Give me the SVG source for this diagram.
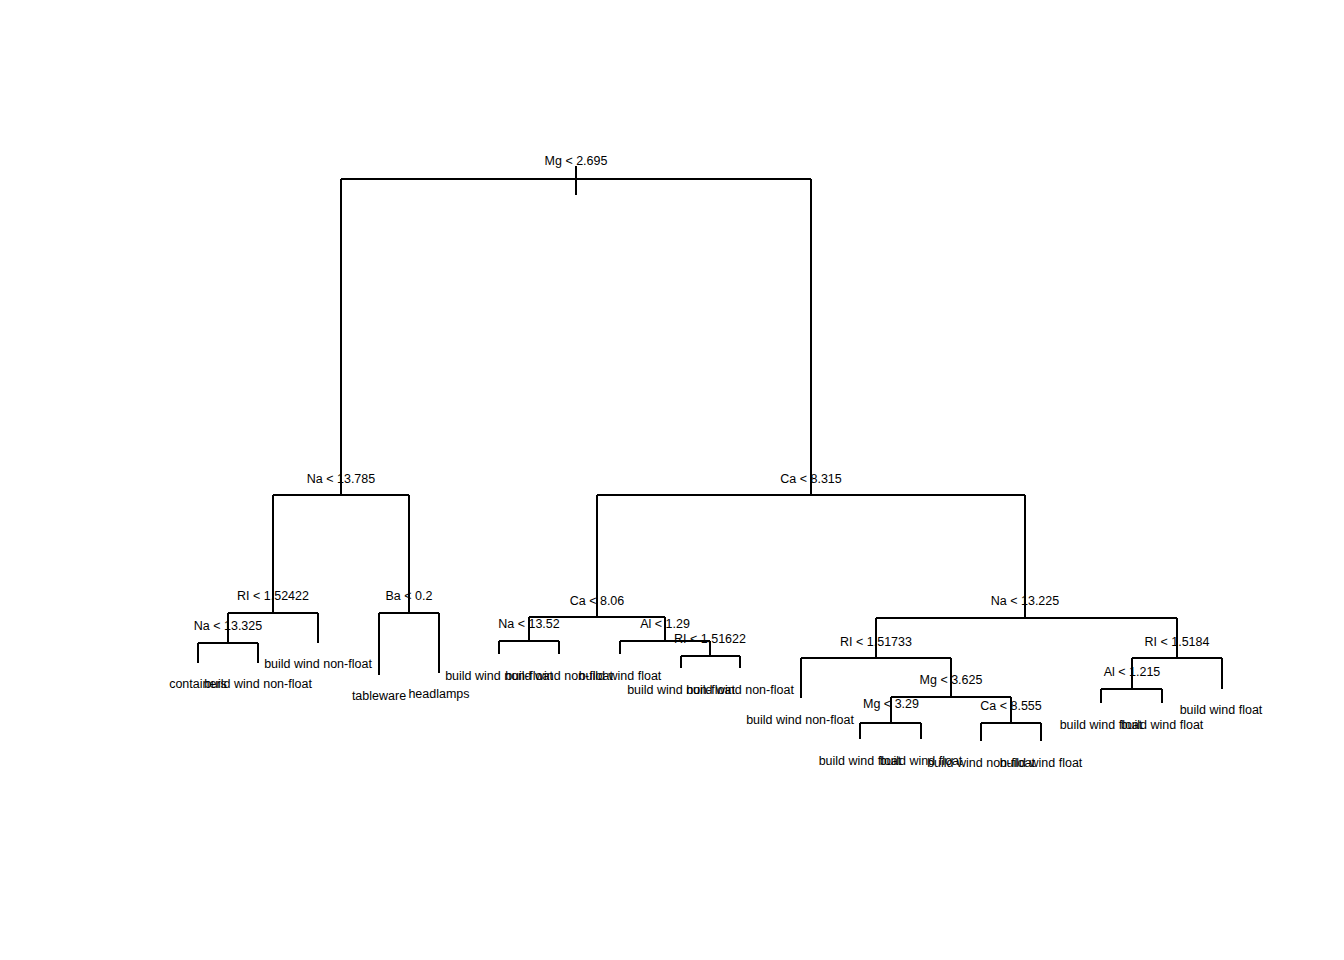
<svg xmlns="http://www.w3.org/2000/svg" width="1344" height="960" viewBox="0 0 1344 960">
<style>
text{font-family:"Liberation Sans",Arial,sans-serif;font-size:12.5px;fill:#000;text-anchor:middle}
.c path{stroke:#000;stroke-width:2;fill:none;stroke-linecap:butt}
</style>
<rect width="1344" height="960" fill="#fff"/>
<g id="nodes">
<g id="n-root"><text x="576" y="164.5">Mg &lt; 2.695</text></g>
<g id="n-na13785"><text x="341" y="482.5">Na &lt; 13.785</text></g>
<g id="n-ca8315"><text x="811" y="482.5">Ca &lt; 8.315</text></g>
<g id="n-ri152422"><text x="273" y="599.5">RI &lt; 1.52422</text></g>
<g id="n-ba02"><text x="409" y="599.5">Ba &lt; 0.2</text></g>
<g id="n-na13325"><text x="228" y="629.5">Na &lt; 13.325</text></g>
<g id="n-ca806"><text x="597" y="604.5">Ca &lt; 8.06</text></g>
<g id="n-na1352"><text x="529" y="627.5">Na &lt; 13.52</text></g>
<g id="n-al129"><text x="665" y="627.5">Al &lt; 1.29</text></g>
<g id="n-ri151622"><text x="710" y="642.5">RI &lt; 1.51622</text></g>
<g id="n-na13225"><text x="1025" y="604.5">Na &lt; 13.225</text></g>
<g id="n-ri151733"><text x="876" y="645.5">RI &lt; 1.51733</text></g>
<g id="n-mg3625"><text x="951" y="683.5">Mg &lt; 3.625</text></g>
<g id="n-mg329"><text x="891" y="707.5">Mg &lt; 3.29</text></g>
<g id="n-ca8555"><text x="1011" y="709.5">Ca &lt; 8.555</text></g>
<g id="n-ri15184"><text x="1177" y="645.5">RI &lt; 1.5184</text></g>
<g id="n-al1215"><text x="1132" y="675.5">Al &lt; 1.215</text></g>
<g id="l1"><text x="198" y="687.5">containers</text></g>
<g id="l2"><text x="258" y="687.5">build wind non-float</text></g>
<g id="l3"><text x="318" y="667.5">build wind non-float</text></g>
<g id="l4"><text x="379" y="700">tableware</text></g>
<g id="l5"><text x="439" y="697.5">headlamps</text></g>
<g id="l6"><text x="499" y="679.5">build wind non-float</text></g>
<g id="l7"><text x="559" y="679.5">build wind non-float</text></g>
<g id="l8"><text x="620" y="679.5">build wind float</text></g>
<g id="l9"><text x="681" y="693.5">build wind non-float</text></g>
<g id="l10"><text x="740" y="693.5">build wind non-float</text></g>
<g id="l11"><text x="800" y="723.5">build wind non-float</text></g>
<g id="l12"><text x="860" y="764.5">build wind float</text></g>
<g id="l13"><text x="921" y="764.5">build wind float</text></g>
<g id="l14"><text x="981" y="766.5">build wind non-float</text></g>
<g id="l15"><text x="1041" y="766.5">build wind float</text></g>
<g id="l16"><text x="1101" y="728.5">build wind float</text></g>
<g id="l17"><text x="1162" y="728.5">build wind float</text></g>
<g id="l18"><text x="1221" y="713.5">build wind float</text></g>
</g>
<g id="connectors" class="c">
<path d="M576 166V195M341 179H811"/>
<path d="M341 179V495M273 495H409"/>
<path d="M273 495V613M228 613H318"/>
<path d="M228 613V643M198 643H258M198 643V663M258 643V663M318 613V643"/>
<path d="M409 495V613M379 613H439M379 613V675M439 613V673"/>
<path d="M811 179V495M597 495H1025"/>
<path d="M597 495V617M529 617H665"/>
<path d="M529 617V641M499 641H559M499 641V654M559 641V654"/>
<path d="M665 617V641M620 641H710M620 641V654"/>
<path d="M710 641V656M681 656H740M681 656V668M740 656V668"/>
<path d="M1025 495V618M876 618H1177"/>
<path d="M876 618V658M801 658H951M801 658V698"/>
<path d="M951 658V697M891 697H1011"/>
<path d="M891 697V723M860 723H921M860 723V739M921 723V739"/>
<path d="M1011 697V723M981 723H1041M981 723V741M1041 723V741"/>
<path d="M1177 618V658M1132 658H1222M1222 658V689"/>
<path d="M1132 658V689M1101 689H1162M1101 689V703M1162 689V703"/>
</g>
</svg>
